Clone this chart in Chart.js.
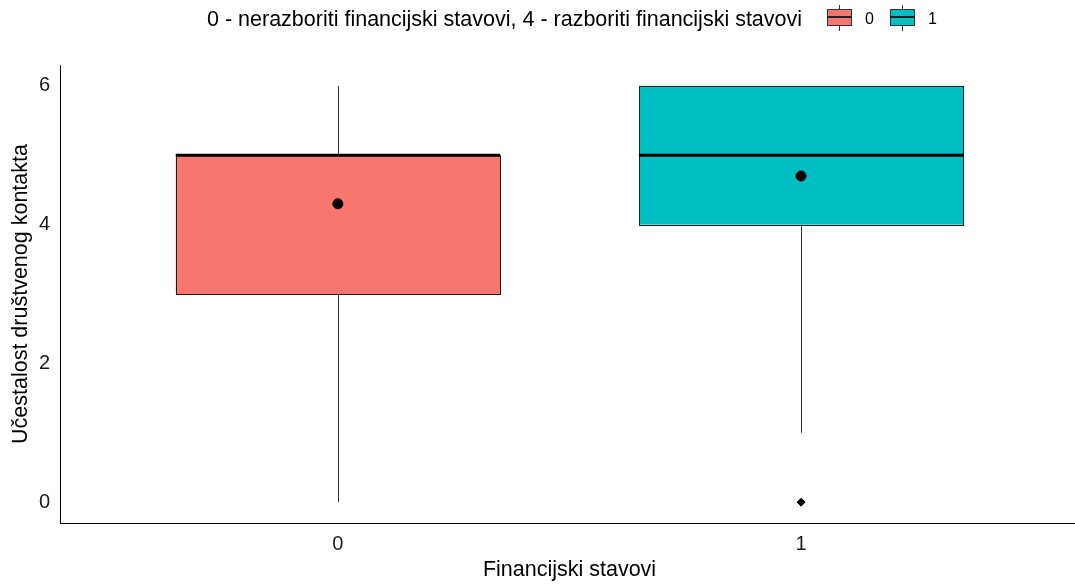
<!DOCTYPE html>
<html>
<head>
<meta charset="utf-8">
<script src="https://cdn.jsdelivr.net/npm/chart.js@4"></script>
<style>
  body { margin: 0; background: #fff; }
  #wrap { position: relative; width: 1075px; height: 585px; overflow: hidden; }
  #legend { position: absolute; top: 0; left: 0; width: 1075px; height: 40px;
    font-family: "Liberation Sans", Arial, sans-serif; color: #000; white-space: nowrap; }
  #legend .ttl { position: absolute; left: 207px; top: 7px; font-size: 21.5px; line-height: 24px; }
  .key { position: absolute; top: 5px; width: 25px; height: 26px; }
  .key .box { position: absolute; left: 0; top: 4px; width: 23px; height: 15px; border: 1px solid #333; }
  .key .med { position: absolute; left: 0; top: 11px; width: 25px; height: 2px; background: #222; }
  .key .wt { position: absolute; left: 12px; top: 0; width: 1px; height: 4px; background: #333; }
  .key .wb { position: absolute; left: 12px; top: 21px; width: 1px; height: 5px; background: #333; }
  .lab { position: absolute; top: 10px; font-size: 16px; line-height: 18px; }
</style>
</head>
<body>
<div id="wrap">
  <canvas id="chart" width="1085" height="585"></canvas>
  <div id="legend"></div>
</div>
<script>
// --- data ---
const groups = [0, 1];
const groupLabels = ["0", "1"];
const colors = ["#F8766D", "#00BFC4"];
const q1 = [3, 4];
const medians = [5, 5];
const q3 = [5, 6];
const whiskerLow = [0, 1];
const whiskerHigh = [6, 6];
const means = [4.3, 4.7];
const outliers = [[], [0]];
const yTicks = [0, 2, 4, 6];
const legendTitle = "0 - nerazboriti financijski stavovi, 4 - razboriti financijski stavovi";

// legend (html)
var legend = document.getElementById("legend");
var ttl = document.createElement("span");
ttl.className = "ttl";
ttl.textContent = legendTitle;
legend.appendChild(ttl);
var keyX = [827, 890];
groups.forEach(function (g, i) {
  var k = document.createElement("div");
  k.className = "key";
  k.style.left = keyX[i] + "px";
  k.innerHTML = '<div class="wt"></div><div class="box" style="background:' + colors[i] + '"></div><div class="med"></div><div class="wb"></div>';
  legend.appendChild(k);
  var l = document.createElement("span");
  l.className = "lab";
  l.style.left = (keyX[i] + 38) + "px";
  l.textContent = groupLabels[i];
  legend.appendChild(l);
});

// boxes drawn through the chart scales
const boxPlugin = {
  id: "boxes",
  beforeDatasetsDraw(chart) {
    var ctx = chart.ctx, xs = chart.scales.x, ys = chart.scales.y;
    var halfW = 0.35;
    ctx.save();
    groups.forEach(function (g, i) {
      var xc = Math.round(xs.getPixelForValue(g)) + 0.5;
      // whiskers
      ctx.strokeStyle = "#333";
      ctx.lineWidth = 1;
      ctx.beginPath();
      ctx.moveTo(xc, ys.getPixelForValue(whiskerLow[i]));
      ctx.lineTo(xc, ys.getPixelForValue(q1[i]));
      ctx.moveTo(xc, ys.getPixelForValue(q3[i]));
      ctx.lineTo(xc, ys.getPixelForValue(whiskerHigh[i]));
      ctx.stroke();
      // box
      var x0 = xs.getPixelForValue(g - halfW), x1 = xs.getPixelForValue(g + halfW);
      var yTop = ys.getPixelForValue(q3[i]), yBot = ys.getPixelForValue(q1[i]);
      ctx.fillStyle = colors[i];
      ctx.fillRect(x0, yTop, x1 - x0, yBot - yTop);
      ctx.strokeStyle = "#1a1a1a";
      ctx.strokeRect(Math.round(x0) + 0.5, Math.round(yTop) + 0.5, Math.round(x1 - x0), Math.round(yBot - yTop));
      // median
      ctx.strokeStyle = "#000";
      ctx.lineWidth = 3;
      ctx.beginPath();
      ctx.moveTo(x0, ys.getPixelForValue(medians[i]));
      ctx.lineTo(x1, ys.getPixelForValue(medians[i]));
      ctx.stroke();
    });
    ctx.restore();
  }
};

var meanPts = groups.map((g, i) => ({ x: g, y: means[i] }));
var outPts = [];
groups.forEach((g, i) => outliers[i].forEach(v => outPts.push({ x: g, y: v })));

var tickFont = { family: "'Liberation Sans', Arial, sans-serif", size: 20 };
var titleFont = { family: "'Liberation Sans', Arial, sans-serif", size: 21.5 };

new Chart(document.getElementById("chart"), {
  type: "scatter",
  data: {
    datasets: [
      { label: "mean", data: meanPts, pointStyle: "circle", pointRadius: 5, backgroundColor: "#000", borderColor: "#000" },
      { label: "outliers", data: outPts, pointStyle: "rectRot", pointRadius: 4, backgroundColor: "#000", borderColor: "#000" }
    ]
  },
  options: {
    responsive: false,
    animation: false,
    events: [],
    layout: { padding: { top: 65, right: 0, left: 0, bottom: 0 } },
    plugins: { legend: { display: false }, tooltip: { enabled: false } },
    scales: {
      x: {
        type: "linear",
        min: -0.6,
        max: 1.6,
        afterBuildTicks: s => { s.ticks = groups.map(v => ({ value: v })); },
        afterFit: s => { s.height = 62; },
        grid: { display: false, drawOnChartArea: false, drawTicks: true, tickLength: 5, tickColor: "#333" },
        border: { display: true, color: "#000", width: 1 },
        ticks: { font: tickFont, color: "#1a1a1a", padding: 4, callback: v => groupLabels[groups.indexOf(v)] },
        title: { display: true, text: "Financijski stavovi", font: titleFont, color: "#000", padding: { top: 2, bottom: 2 } }
      },
      y: {
        min: -0.3,
        max: 6.3,
        afterBuildTicks: s => { s.ticks = yTicks.map(v => ({ value: v })); },
        afterFit: s => { s.width = 60; },
        grid: { display: false, drawOnChartArea: false, drawTicks: true, tickLength: 5, tickColor: "#333" },
        border: { display: true, color: "#000", width: 1 },
        ticks: { font: tickFont, color: "#1a1a1a", padding: 5 },
        title: { display: true, text: "Učestalost društvenog kontakta", font: titleFont, color: "#000", padding: { top: 8, bottom: 0 } }
      }
    }
  },
  plugins: [boxPlugin]
});
</script>
</body>
</html>
